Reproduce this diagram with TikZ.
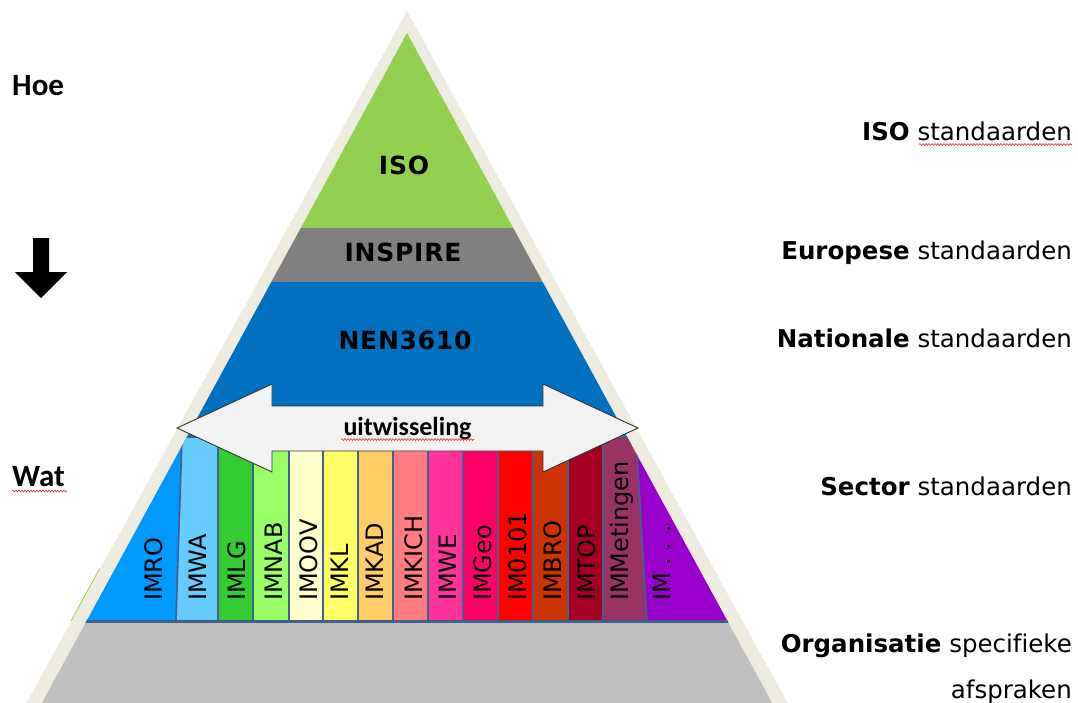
\documentclass[tikz,border=0pt]{standalone}
\usepackage{fontspec}
\setmainfont{DejaVu Sans}[Ligatures=NoCommon]
\newfontfamily\calib{Carlito}
\newfontfamily\pyrfont{DejaVu Sans}[LetterSpace=3]
\usetikzlibrary{decorations.pathmorphing}
\definecolor{beige}{HTML}{EEECE1}
\definecolor{isogreen}{HTML}{92D050}
\definecolor{inspgray}{HTML}{808080}
\definecolor{nenblue}{HTML}{0070C0}
\definecolor{orggray}{HTML}{BFBFBF}
\definecolor{sepcol}{HTML}{41608C}
\definecolor{arrowfill}{HTML}{F2F2F2}
\definecolor{cIMRO}{HTML}{0099FF}
\definecolor{cIMWA}{HTML}{66CCFF}
\definecolor{cIMLG}{HTML}{33CC33}
\definecolor{cIMNAB}{HTML}{99FF66}
\definecolor{cIMOOV}{HTML}{FFFFCC}
\definecolor{cIMKL}{HTML}{FFFF66}
\definecolor{cIMKAD}{HTML}{FFCC66}
\definecolor{cIMKICH}{HTML}{FF7C80}
\definecolor{cIMWE}{HTML}{FF3399}
\definecolor{cIMGeo}{HTML}{FF0066}
\definecolor{cIMnul}{HTML}{FF0000}
\definecolor{cIMBRO}{HTML}{CC3300}
\definecolor{cIMTOP}{HTML}{A50021}
\definecolor{cIMMet}{HTML}{993366}
\definecolor{cIMdots}{HTML}{9900CC}
\definecolor{squig}{HTML}{E03030}
\tikzset{
  colbox/.style={draw=sepcol, line width=1.6pt},
  collabel/.style={rotate=90, anchor=base west, inner sep=0pt, font=\fontsize{24}{24}\selectfont},
  pyrlabel/.style={anchor=center, inner sep=0pt, font=\fontsize{25}{25}\selectfont\pyrfont\bfseries},
  rlabel/.style={anchor=base east, inner sep=0pt, font=\fontsize{24.5}{25}\selectfont},
  llabel/.style={anchor=base west, inner sep=0pt, font=\fontsize{31}{31}\selectfont\calib\bfseries},
  spell/.style={draw=squig, line width=0.6pt, decorate, decoration={snake, amplitude=0.9pt, segment length=3pt}}
}
\begin{document}
\begin{tikzpicture}[x=1pt,y=-1pt]
\useasboundingbox (0,0) rectangle (1078,702);
\begin{scope}
\clip (0,0) rectangle (1078,702);
% outer beige border triangle
\fill[beige] (407,11) -- (17,720) -- (797,720) -- cycle;
\draw[isogreen, line width=0.8pt] (71,621) -- (100,568);
\begin{scope}
\clip (407,33) -- (32.6,720) -- (781.4,720) -- cycle;
\fill[isogreen] (0,0) rectangle (1078,228);
\fill[inspgray] (0,228) rectangle (1078,282);
\fill[nenblue] (0,282) rectangle (1078,445);
\fill[orggray] (0,621) rectangle (1078,720);
% sector columns
\filldraw[fill=cIMRO, colbox] (40,437) -- (182,437) -- (176,621) -- (40,621) -- cycle;
\filldraw[fill=cIMWA, colbox] (182,437) -- (218,437) -- (218,621) -- (176,621) -- cycle;
\filldraw[fill=cIMLG, colbox] (218,437) rectangle (253,621);
\filldraw[fill=cIMNAB, colbox] (253,437) rectangle (289,621);
\filldraw[fill=cIMOOV, colbox] (289,437) rectangle (323,621);
\filldraw[fill=cIMKL, colbox] (323,437) rectangle (358,621);
\filldraw[fill=cIMKAD, colbox] (358,437) rectangle (393,621);
\filldraw[fill=cIMKICH, colbox] (393,437) rectangle (428,621);
\filldraw[fill=cIMWE, colbox] (428,437) rectangle (463,621);
\filldraw[fill=cIMGeo, colbox] (463,437) rectangle (498,621);
\filldraw[fill=cIMnul, colbox] (498,437) rectangle (533,621);
\filldraw[fill=cIMBRO, colbox] (533,437) rectangle (568,621);
\filldraw[fill=cIMTOP, colbox] (568,437) rectangle (603,621);
\filldraw[fill=cIMMet, colbox] (603,437) -- (636,437) -- (647,621) -- (603,621) -- cycle;
\filldraw[fill=cIMdots, colbox] (636,437) -- (800,437) -- (800,621) -- (647,621) -- cycle;
\draw[sepcol, line width=3pt] (0,621.5) -- (1078,621.5);
\end{scope}
\end{scope}
% column labels
\node[collabel] (lIMRO) at (162,601) {IMRO};
\node[collabel] (lIMWA) at (206,601) {IMWA};
\node[collabel] (lIMLG) at (245,601) {IMLG};
\node[collabel] (lIMNAB) at (282,601) {IMNAB};
\node[collabel] (lIMOOV) at (317,601) {IMOOV};
\node[collabel] (lIMKL) at (348,601) {IMKL};
\node[collabel] (lIMKAD) at (383,601) {IMKAD};
\node[collabel] (lIMKICH) at (422,601) {IMKICH};
\node[collabel] (lIMWE) at (456,601) {IMWE};
\node[collabel] (lIMGeo) at (491,601) {IMGeo};
\node[collabel] (lIMnul) at (526,601) {IM0101};
\node[collabel] (lIMBRO) at (561,601) {IMBRO};
\node[collabel] (lIMTOP) at (595,601) {IMTOP};
\node[collabel] (lIMMet) at (628,601) {IMMetingen};
\node[collabel] (lIMdots) at (670,601) {IM . . .};
% exchange arrow
\filldraw[fill=arrowfill, draw=black!80, line width=0.9pt]
  (177,428) -- (272,384) -- (272,406) -- (543,406) -- (543,384) -- (638,428)
  -- (543,472) -- (543,451) -- (272,451) -- (272,472) -- cycle;
\node[anchor=base, inner sep=0pt, font=\fontsize{26}{26}\selectfont\calib\bfseries] (uitw) at (407.5,435) {uitwisseling};
\draw[spell] (341,439.5) -- (474,439.5);
% pyramid labels
\node[pyrlabel] (iso) at (404,165) {ISO};
\node[pyrlabel] (inspire) at (403,252.5) {INSPIRE};
\node[pyrlabel] (nen) at (405,340) {NEN3610};
% right labels
\node[rlabel] (rISO) at (1072,140) {\textbf{ISO} standaarden};
\draw[spell] (919,144.5) -- (1072,144.5);
\node[rlabel] (rEU) at (1072,259) {\textbf{Europese} standaarden};
\node[rlabel] (rNL) at (1072,347) {\textbf{Nationale} standaarden};
\node[rlabel] (rSec) at (1072,495) {\textbf{Sector} standaarden};
\node[rlabel] (rOrg) at (1072,652) {\textbf{Organisatie} specifieke};
\node[rlabel] (rAfs) at (1072,698) {afspraken};
% left labels
\node[llabel] (hoe) at (12,95) {Hoe};
\node[llabel] (wat) at (12,486) {Wat};
\draw[spell] (12,491) -- (67,491);
% down arrow
\fill[black] (33,238) -- (49,238) -- (49,272) -- (67,272) -- (41,298) -- (15,272) -- (33,272) -- cycle;
\end{tikzpicture}
\end{document}
